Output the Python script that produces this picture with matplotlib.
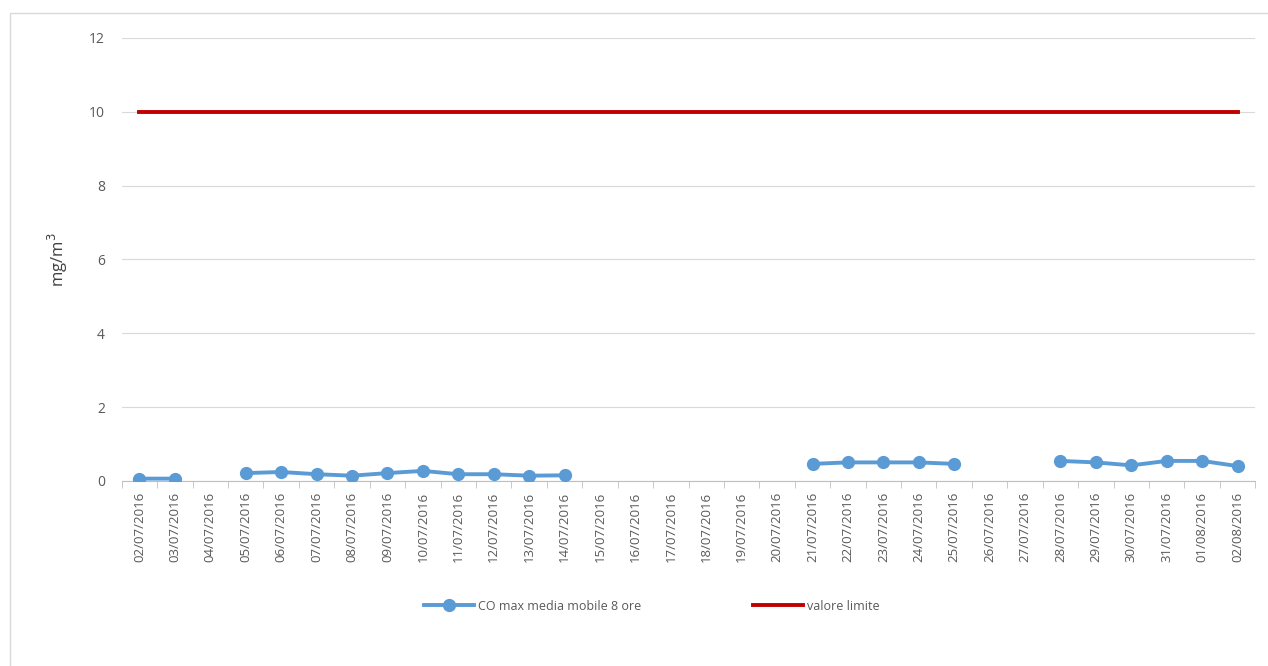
import numpy as np
import matplotlib
matplotlib.use("Agg")
import matplotlib.pyplot as plt
from matplotlib.patches import Rectangle

dates = ["02/07/2016", "03/07/2016", "04/07/2016", "05/07/2016", "06/07/2016",
         "07/07/2016", "08/07/2016", "09/07/2016", "10/07/2016", "11/07/2016",
         "12/07/2016", "13/07/2016", "14/07/2016", "15/07/2016", "16/07/2016",
         "17/07/2016", "18/07/2016", "19/07/2016", "20/07/2016", "21/07/2016",
         "22/07/2016", "23/07/2016", "24/07/2016", "25/07/2016", "26/07/2016",
         "27/07/2016", "28/07/2016", "29/07/2016", "30/07/2016", "31/07/2016",
         "01/08/2016", "02/08/2016"]
nan = np.nan
co_values = [0.06, 0.06, nan, 0.21, 0.24, 0.18, 0.14, 0.21, 0.27, 0.18,
             0.18, 0.14, 0.15, nan, nan, nan, nan, nan, nan, 0.46,
             0.50, 0.50, 0.50, 0.46, nan, nan, 0.54, 0.50, 0.42, 0.54,
             0.54, 0.40]
limit_values = [10] * len(dates)

plt.rcParams["font.family"] = ["Open Sans", "DejaVu Sans"]

fig = plt.figure(figsize=(12.68, 6.66), dpi=100)
ax = fig.add_axes([0.096, 0.278, 0.894, 0.665])

# outer chart frame (bottom and right edges fall outside the image)
fig.patches.append(Rectangle((10 / 1268, -0.1), 1.2, 1.1 - 13 / 666,
                             transform=fig.transFigure, fill=False,
                             edgecolor="#d9d9d9", linewidth=1.0))

x = np.arange(len(dates))
ax.plot(x, co_values, "o-", color="#5B9BD5", linewidth=2.8, markersize=8.5,
        label="CO max media mobile 8 ore", zorder=3)
ax.plot(x, limit_values, "-", color="#C00000", linewidth=2.8,
        label="valore limite", zorder=2)

ax.set_xlim(-0.5, len(dates) - 0.5)
ax.set_ylim(0, 12)
ax.set_yticks(range(0, 13, 2))
ax.set_xticks(x)
ax.set_xticklabels(dates, rotation=90, fontsize=9.5, color="#595959")
ax.set_xticks(np.arange(-0.5, len(dates), 1), minor=True)
ax.tick_params(axis="x", which="major", length=0, pad=8)
ax.tick_params(axis="x", which="minor", length=5, color="#bfbfbf")
ax.tick_params(axis="y", length=0, labelsize=10, labelcolor="#595959", pad=12)

ax.grid(axis="y", color="#d9d9d9", linewidth=0.8)
ax.set_axisbelow(True)
for s in ["top", "right", "left"]:
    ax.spines[s].set_visible(False)
ax.spines["bottom"].set_color("#bfbfbf")

ax.set_ylabel("mg/m$^3$", fontsize=12, color="#404040", labelpad=14)

fig.legend(loc="center", bbox_to_anchor=(0.514, 1 - 606 / 666), ncol=2,
           frameon=False, fontsize=9, handlelength=4, handletextpad=0.3,
           columnspacing=9, labelcolor="#595959")

fig.savefig("out.png", dpi=100)
